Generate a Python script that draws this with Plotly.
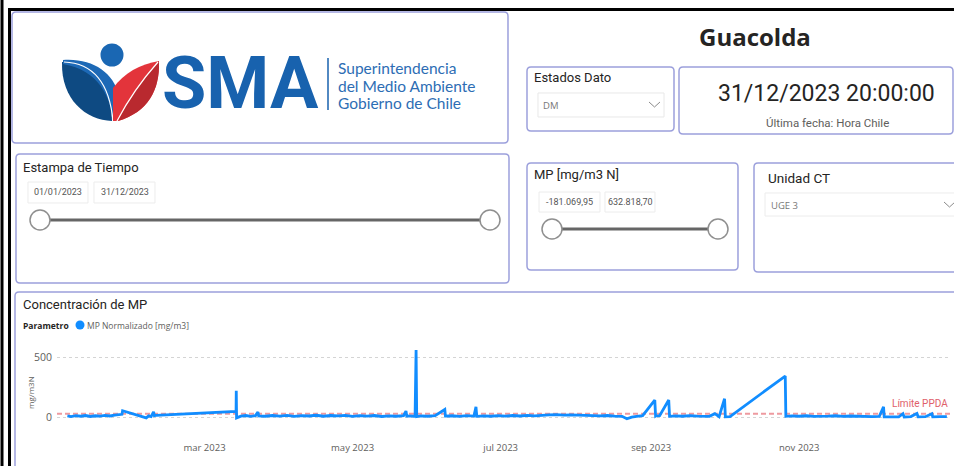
import plotly.graph_objects as go

W, H = 954, 466

# ---------------- data ----------------
timestamps = [
    "2023-01-03 12:00", "2023-01-05", "2023-01-07", "2023-01-09", "2023-01-11", "2023-01-13",
    "2023-01-15", "2023-01-17", "2023-01-19", "2023-01-21", "2023-01-23", "2023-01-25",
    "2023-01-26 00:00", "2023-01-26 06:00", "2023-01-27 00:00", "2023-02-05 00:00", "2023-02-06",
    "2023-02-07", "2023-02-08 00:00", "2023-02-08 08:00", "2023-02-09", "2023-03-14 00:00",
    "2023-03-14 02:00", "2023-03-14 05:00", "2023-03-16", "2023-03-18", "2023-03-20", "2023-03-22",
    "2023-03-23 00:00", "2023-03-23 08:00", "2023-03-26", "2023-03-29", "2023-04-01", "2023-04-04",
    "2023-04-07", "2023-04-10", "2023-04-13", "2023-04-16", "2023-04-19", "2023-04-22",
    "2023-04-25", "2023-04-28", "2023-05-01", "2023-05-04", "2023-05-07", "2023-05-10",
    "2023-05-13", "2023-05-16", "2023-05-19", "2023-05-22", "2023-05-23 00:00", "2023-05-23 08:00",
    "2023-05-25", "2023-05-26 18:00", "2023-05-27 04:00", "2023-05-27 10:00", "2023-05-29",
    "2023-06-01", "2023-06-04", "2023-06-08 00:00", "2023-06-08 06:00", "2023-06-11", "2023-06-14",
    "2023-06-17", "2023-06-20 00:00", "2023-06-20 20:00", "2023-06-21 04:00", "2023-06-24",
    "2023-06-27", "2023-06-30", "2023-07-03", "2023-07-06", "2023-07-09", "2023-07-12",
    "2023-07-15", "2023-07-18", "2023-07-21", "2023-07-24", "2023-07-27", "2023-07-30",
    "2023-08-02", "2023-08-05", "2023-08-08", "2023-08-11", "2023-08-14", "2023-08-17",
    "2023-08-20", "2023-08-22", "2023-08-24", "2023-08-26", "2023-08-28 12:00",
    "2023-09-02 12:00", "2023-09-02 20:00", "2023-09-03", "2023-09-04 12:00", "2023-09-08 06:00",
    "2023-09-08 14:00", "2023-09-11", "2023-09-14", "2023-09-17", "2023-09-20", "2023-09-23",
    "2023-09-25", "2023-09-27 06:00", "2023-09-29 00:00", "2023-10-01 06:00", "2023-10-01 14:00",
    "2023-10-03 12:00", "2023-10-26 06:00", "2023-10-26 12:00", "2023-10-29", "2023-11-01",
    "2023-11-04", "2023-11-07", "2023-11-10", "2023-11-13", "2023-11-16", "2023-11-19",
    "2023-11-22", "2023-11-25", "2023-11-28", "2023-12-01", "2023-12-04", "2023-12-05 18:00",
    "2023-12-06 00:00", "2023-12-09", "2023-12-12", "2023-12-13 18:00", "2023-12-14 06:00",
    "2023-12-17", "2023-12-19 12:00", "2023-12-20", "2023-12-23", "2023-12-25 16:00",
    "2023-12-26", "2023-12-29", "2023-12-31 20:00",
]
mp_values = [
    12, 6, 14, 9, 15, 7,
    13, 10, 16, 11, 18, 22,
    25, 55, 50, -5, 12,
    6, 45, 14, 17, 50,
    222, -5, 10, 15, 8, 14,
    45, 12, 9, 15, 10, 16,
    8, 14, 11, 17, 9, 15,
    12, 16, 8, 14, 10, 15,
    7, 12, 9, 13, 52, 10,
    12, 8, 561, 6, 12,
    9, 14, 65, 10, 13, 8,
    14, 10, 88, 8, 12,
    9, 14, 10, 15, 11, 16,
    12, 18, 20, 22, 18, 21,
    17, 19, 14, 12, 15, 10,
    8, -12, 2, 8, 14,
    144, 10, 12, 14, 144,
    8, 12, 9, 14, 10, 12,
    8, 30, 5, 155, 4,
    6, 344, 8, 12, 9,
    13, 8, 12, 10, 13, 7,
    11, 8, 10, 6, 8, 88,
    3, 5, 4, 30, 3,
    6, 32, 4, 5, 30,
    4, 6, 5,
]
limit_ppda = 30
y_tick_vals = [0, 500]
y_tick_text = ["0", "500"]
x_tick_vals = ["2023-03-01", "2023-05-01", "2023-07-01", "2023-09-01", "2023-11-01"]
x_tick_text = ["mar 2023", "may 2023", "jul 2023", "sep 2023", "nov 2023"]
x_range = ["2022-12-30 05:30", "2024-01-02 03:00"]
y_range = [-189, 644]

# ---------------- helpers ----------------
def px(x):
    return x / W


def py(y):
    return 1 - y / H


def conv(path):
    toks = path.replace(",", " ").split()
    out = []
    isx = True
    for t in toks:
        if t.isalpha():
            out.append(t)
            isx = True
            continue
        v = float(t)
        out.append(f"{px(v):.5f}" if isx else f"{py(v):.5f}")
        isx = not isx
    return " ".join(out)


shapes = []
annotations = []

PANEL = "#9CA0DC"
TXT = "#252423"
SUB = "#605E5C"


def rrect(x0, y0, x1, y1, r=4, color=PANEL, width=1.5, fill="rgba(0,0,0,0)"):
    p = (f"M {x0+r} {y0} L {x1-r} {y0} Q {x1} {y0} {x1} {y0+r} L {x1} {y1-r} "
         f"Q {x1} {y1} {x1-r} {y1} L {x0+r} {y1} Q {x0} {y1} {x0} {y1-r} "
         f"L {x0} {y0+r} Q {x0} {y0} {x0+r} {y0} Z")
    shapes.append(dict(type="path", xref="paper", yref="paper", path=conv(p),
                       line=dict(color=color, width=width), fillcolor=fill, layer="below"))


def line(x0, y0, x1, y1, color, width, dash=None):
    d = dict(color=color, width=width)
    if dash:
        d["dash"] = dash
    shapes.append(dict(type="line", xref="paper", yref="paper", x0=px(x0), y0=py(y0),
                       x1=px(x1), y1=py(y1), line=d))


def circle(cx, cy, r, fill, color, width=1.2):
    shapes.append(dict(type="circle", xref="paper", yref="paper", x0=px(cx - r), x1=px(cx + r),
                       y0=py(cy + r), y1=py(cy - r), fillcolor=fill,
                       line=dict(color=color, width=width)))


def path(p, fill, color=None, width=0):
    shapes.append(dict(type="path", xref="paper", yref="paper", path=conv(p), fillcolor=fill,
                       line=dict(color=color or fill, width=width)))


def text(x, y, s, size, color=TXT, family="Roboto", xanchor="left", angle=0):
    annotations.append(dict(x=px(x), y=py(y), xref="paper", yref="paper", text=s, showarrow=False,
                            xanchor=xanchor, yanchor="middle", textangle=angle,
                            font=dict(size=size, color=color, family=family)))


# ---------------- outer black frame ----------------
line(2, 0, 2, 466, "black", 3)
line(9.5, 9, 9.5, 466, "black", 3)
line(8, 9.5, 954, 9.5, "black", 3)

# ---------------- panels ----------------
rrect(12, 12, 508, 143)
rrect(527, 67, 674, 131)
rrect(679, 67, 953, 134)
rrect(16, 154, 509, 283)
rrect(527, 163, 738, 270)
rrect(754, 163, 975, 272)
rrect(15, 292, 975, 490)

# ---------------- logo ----------------
path("M 62 62 C 85 63 105 76 111 100 L 112 121 C 86 120 61 100 62 62 Z", "#0E4A82")
path("M 63 60 C 92 58 113 72 119 95 L 118 121 L 113 121 C 111 98 99 70 63 64 Z", "#1D69B6")
path("M 64 62 C 90 63 109 78 113 121", "rgba(0,0,0,0)", "white", 1.2)
path("M 113 121 L 113 88 C 124 73 140 64 159 61 C 160 90 148 112 118 121 Z", "#E3343B")
path("M 118 121 C 128 100 142 80 159 61 C 160 90 148 112 118 121 Z", "#B9292F")
path("M 117 121 C 128 100 142 80 158 62", "rgba(0,0,0,0)", "white", 1.2)
circle(112, 55, 11.5, "#1A67B3", "#1A67B3", 0)
text(240, 84, "<b>SMA</b>", 72, "#1862AE", "Roboto", "center")
line(328, 58, 328, 110, "#1862AE", 1.5)
text(336, 68, "Superintendencia", 15.5, "#2D6DB4", "Lato")
text(336, 86, "del Medio Ambiente", 15.5, "#2D6DB4", "Lato")
text(336, 103, "Gobierno de Chile", 15.5, "#2D6DB4", "Lato")

# ---------------- header / cards ----------------
text(755, 37, "<b>Guacolda</b>", 24, TXT, "Open Sans", "center")
text(532, 77, "Estados Dato", 13, TXT)
rrect(538, 93, 664, 117, r=0, color="#E8E8E8", width=1)
text(541, 105, "DM", 9.5, "#777777", "Open Sans")
path("M 649 102 L 654.5 107 L 660 102", "rgba(0,0,0,0)", "#8A8A8A", 1)
text(826, 94, "31/12/2023 20:00:00", 23, TXT, "Roboto", "center")
text(827, 123, "Última fecha: Hora Chile", 11.5, SUB, "Roboto", "center")

text(21, 167, "Estampa de Tiempo", 13, TXT)
rrect(28, 182, 88, 203, r=0, color="#ECECEC", width=1)
rrect(94, 182, 155, 203, r=0, color="#ECECEC", width=1)
text(58, 192.5, "01/01/2023", 9, "#555555", "Roboto", "center")
text(124.5, 192.5, "31/12/2023", 9, "#555555", "Roboto", "center")
line(40, 220, 490, 220, "#666666", 3)
circle(40, 220, 10, "white", "#8F8F8F", 1.5)
circle(490, 220, 10, "white", "#8F8F8F", 1.5)

text(532, 175, "MP [mg/m3 N]", 13, TXT)
rrect(539, 192, 600, 212, r=0, color="#ECECEC", width=1)
rrect(605, 192, 655, 212, r=0, color="#ECECEC", width=1)
text(569.5, 202, "-181.069,95", 9, "#555555", "Roboto", "center")
text(630, 202, "632.818,70", 9, "#555555", "Roboto", "center")
line(552, 229, 718, 229, "#666666", 3)
circle(552, 229, 10, "white", "#8F8F8F", 1.5)
circle(718, 229, 10, "white", "#8F8F8F", 1.5)

text(766, 178, "Unidad CT", 13.5, TXT)
rrect(765, 193, 975, 216, r=0, color="#ECECEC", width=1)
text(769, 205, "UGE 3", 9.5, "#777777", "Open Sans")
path("M 944 202 L 949.5 207 L 955 202", "rgba(0,0,0,0)", "#8A8A8A", 1)

# ---------------- chart panel ----------------
text(21, 304, "Concentración de MP", 13, TXT)
text(21, 325, "<b>Parametro</b>", 8.5, TXT, "Open Sans")
circle(80, 325, 4.5, "#118DFF", "#118DFF", 0)
text(85, 325, "MP Normalizado [mg/m3]", 8.5, SUB, "Open Sans")
text(30, 393, "mg/m3N", 8, SUB, "Open Sans", "center", -90)

fig = go.Figure()
fig.add_trace(go.Scatter(
    x=timestamps, y=mp_values, mode="lines", name="MP Normalizado [mg/m3]",
    line=dict(color="#118DFF", width=2.8), showlegend=False,
))

shapes.append(dict(type="line", xref="x domain", yref="y", x0=0, x1=1, y0=limit_ppda, y1=limit_ppda,
                   line=dict(color="#EE9AA0", width=2, dash="5px,3px"), layer="below"))
annotations.append(dict(xref="x domain", yref="y", x=1, y=limit_ppda, yshift=10, text="Límite PPDA",
                        showarrow=False, xanchor="right", yanchor="middle",
                        font=dict(size=10, color="#E0606A", family="Roboto")))

fig.update_layout(
    width=W, height=H, margin=dict(l=0, r=0, t=0, b=0),
    paper_bgcolor="white", plot_bgcolor="white",
    shapes=shapes, annotations=annotations,
    xaxis=dict(domain=[px(57), px(950)], range=x_range, type="date", tickvals=x_tick_vals,
               ticktext=x_tick_text, showgrid=False, zeroline=False, showline=False,
               tickfont=dict(size=9.5, color=SUB, family="Open Sans"), ticks="", fixedrange=True),
    yaxis=dict(domain=[py(440), py(340)], range=y_range, tickvals=y_tick_vals, ticktext=y_tick_text,
               showgrid=True, gridcolor="#D4D4D4", griddash="dot", gridwidth=1, zeroline=False,
               showline=False, tickfont=dict(size=10.5, color=SUB, family="Open Sans"), ticks="",
               ticklabelstandoff=4, fixedrange=True),
    showlegend=False,
)

fig.write_html("out.html", config={"displayModeBar": False},
               post_script="document.body.style.margin='0';")
